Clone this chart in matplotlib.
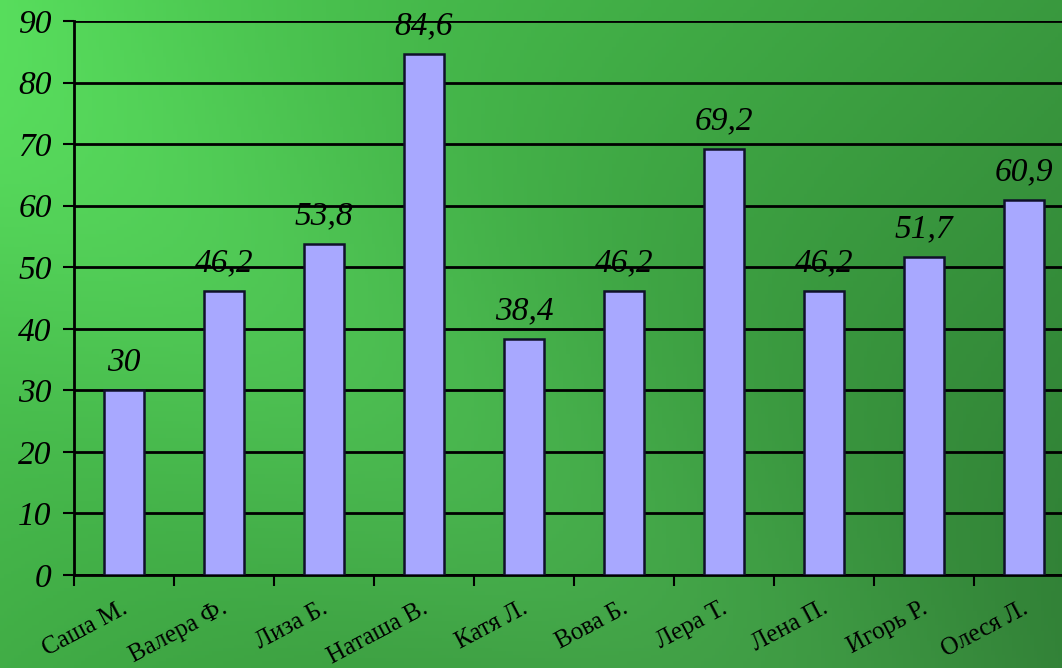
import matplotlib.pyplot as plt
import matplotlib.transforms as mtransforms
import numpy as np

names = ["Саша М.", "Валера Ф.", "Лиза Б.", "Наташа В.", "Катя Л.",
         "Вова Б.", "Лера Т.", "Лена П.", "Игорь Р.", "Олеся Л."]
scores = [30, 46.2, 53.8, 84.6, 38.4, 46.2, 69.2, 46.2, 51.7, 60.9]
score_labels = ["30", "46,2", "53,8", "84,6", "38,4", "46,2", "69,2", "46,2", "51,7", "60,9"]
y_ticks = [0, 10, 20, 30, 40, 50, 60, 70, 80, 90]

plt.rcParams['font.family'] = ['Liberation Serif', 'DejaVu Serif']

W, H = 1062, 668
fig = plt.figure(figsize=(W / 100, H / 100), dpi=100)

# green gradient background
bg = fig.add_axes([0, 0, 1, 1])
yy, xx = np.mgrid[0:1:200j, 0:1:300j]
d = xx * 0.62 + yy * 0.38
band = np.exp(-((xx * 0.55 + (1 - yy) * 0.45 - 0.38) / 0.18) ** 2)
light = np.array([0.30, 0.80, 0.32])
dark = np.array([0.18, 0.48, 0.20])
t = np.clip(d, 0, 1)[..., None]
img = light * (1 - t) + dark * t
img = img + band[..., None] * np.array([0.05, 0.08, 0.05])
bg.imshow(np.clip(img, 0, 1), aspect='auto', extent=[0, 1, 0, 1], origin='upper')
bg.axis('off')

ax = fig.add_axes([74 / W, 93 / H, 1000 / W, 554 / H])
ax.patch.set_alpha(0)
x = np.arange(len(names))
ax.bar(x, scores, width=0.4, color='#a8a8ff', edgecolor='#10102a', linewidth=1.8, zorder=3)

for xi, v, lab in zip(x, scores, score_labels):
    ax.annotate(lab, (xi, v), xytext=(0, 9), textcoords='offset points',
                ha='center', va='bottom', fontsize=24, style='italic', zorder=4)

ax.set_xlim(-0.5, len(names) - 0.5)
ax.set_ylim(0, 90)
ax.set_yticks(y_ticks)
ax.set_yticklabels([str(v) for v in y_ticks], fontsize=24, style='italic')
ax.grid(axis='y', color='black', linewidth=2, zorder=1)
ax.set_axisbelow(True)

ax.set_xticks(x)
ax.set_xticklabels(names, rotation=28, ha='right', rotation_mode='anchor', fontsize=18)
ax.tick_params(axis='x', length=0, pad=16)
shift = mtransforms.ScaledTranslation(-3 / 100, 0, fig.dpi_scale_trans)
for lbl in ax.get_xticklabels():
    lbl.set_transform(lbl.get_transform() + shift)
ax.set_xticks(np.arange(-0.5, len(names), 1), minor=True)
ax.tick_params(axis='x', which='minor', length=8, width=1.5, direction='out')
ax.tick_params(axis='y', length=8, width=1.5, direction='out', pad=8)

for s in ['top', 'right']:
    ax.spines[s].set_visible(False)
ax.spines['left'].set_linewidth(2)
ax.spines['bottom'].set_linewidth(2)

fig.savefig('out.png', dpi=100)
